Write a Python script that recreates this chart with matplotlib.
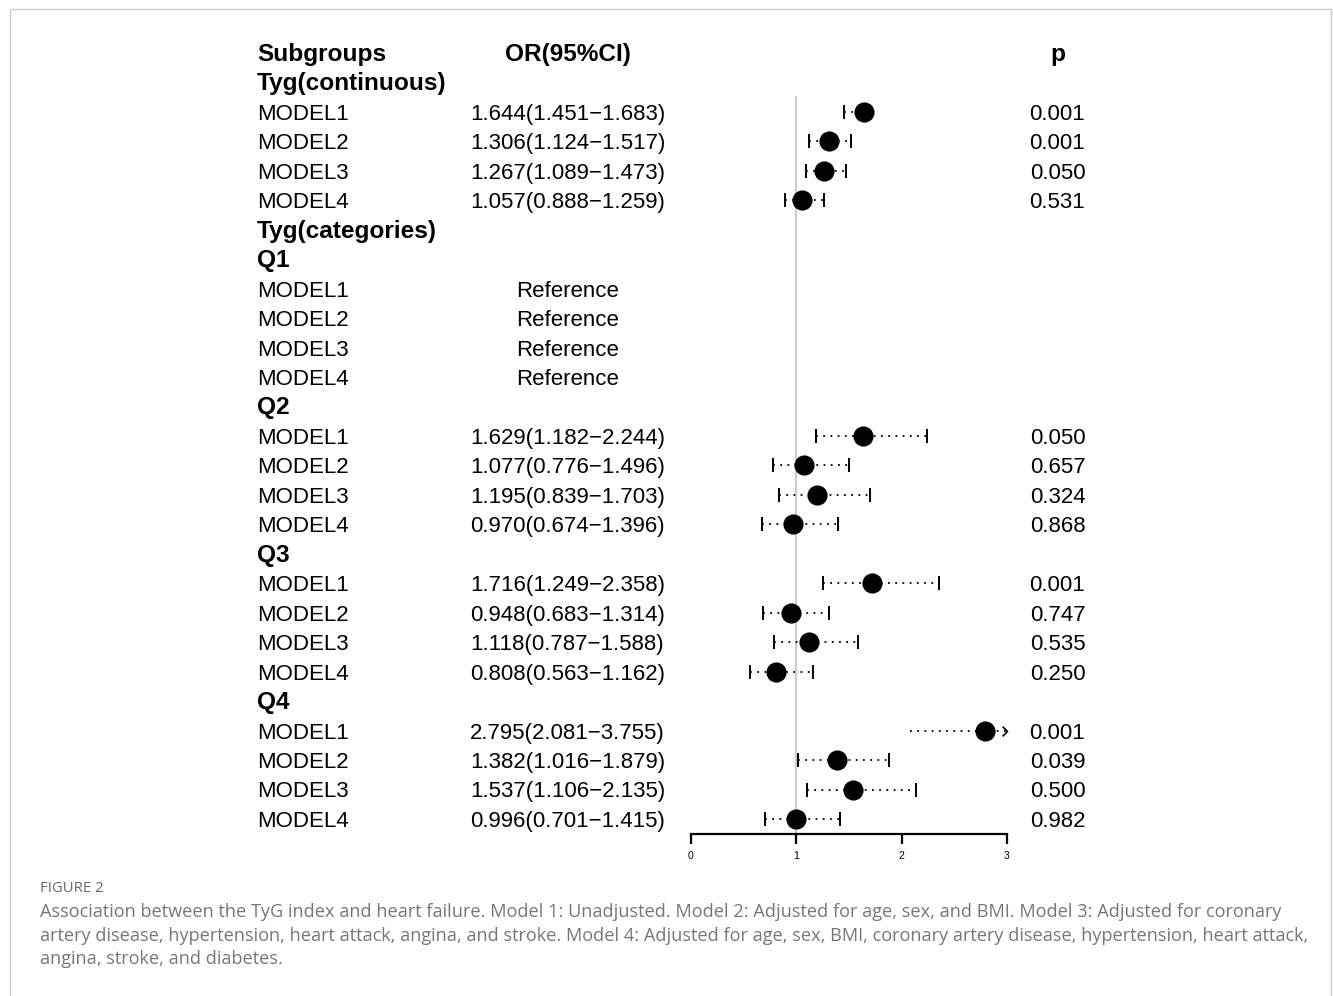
import matplotlib
matplotlib.use("Agg")
import matplotlib.pyplot as plt
from matplotlib.transforms import blended_transform_factory
from matplotlib.path import Path
from matplotlib.patches import Rectangle

# ---------------- data ----------------
header = ["Subgroups", "OR(95%CI)", "p"]
row_labels = ["Tyg(continuous)", "MODEL1", "MODEL2", "MODEL3", "MODEL4",
              "Tyg(categories)", "Q1", "MODEL1", "MODEL2", "MODEL3", "MODEL4",
              "Q2", "MODEL1", "MODEL2", "MODEL3", "MODEL4",
              "Q3", "MODEL1", "MODEL2", "MODEL3", "MODEL4",
              "Q4", "MODEL1", "MODEL2", "MODEL3", "MODEL4"]
or_est = [None, 1.644, 1.306, 1.267, 1.057,
          None, None, "ref", "ref", "ref", "ref",
          None, 1.629, 1.077, 1.195, 0.970,
          None, 1.716, 0.948, 1.118, 0.808,
          None, 2.795, 1.382, 1.537, 0.996]
ci_low = [None, 1.451, 1.124, 1.089, 0.888,
          None, None, None, None, None, None,
          None, 1.182, 0.776, 0.839, 0.674,
          None, 1.249, 0.683, 0.787, 0.563,
          None, 2.081, 1.016, 1.106, 0.701]
ci_high = [None, 1.683, 1.517, 1.473, 1.259,
           None, None, None, None, None, None,
           None, 2.244, 1.496, 1.703, 1.396,
           None, 2.358, 1.314, 1.588, 1.162,
           None, 3.755, 1.879, 2.135, 1.415]
p_values = ["", "0.001", "0.001", "0.050", "0.531",
            "", "", "", "", "", "",
            "", "0.050", "0.657", "0.324", "0.868",
            "", "0.001", "0.747", "0.535", "0.250",
            "", "0.001", "0.039", "0.500", "0.982"]
x_ticks = [0, 1, 2, 3]
caption_title = "FIGURE 2"
caption_lines = [
    "Association between the TyG index and heart failure. Model 1: Unadjusted. Model 2: Adjusted for age, sex, and BMI. Model 3: Adjusted for coronary",
    "artery disease, hypertension, heart attack, angina, and stroke. Model 4: Adjusted for age, sex, BMI, coronary artery disease, hypertension, heart attack,",
    "angina, stroke, and diabetes.",
]

# ---------------- figure ----------------
W, H = 1333, 996
fig = plt.figure(figsize=(W / 100, H / 100), dpi=100)
plt.rcParams['font.family'] = ['Liberation Sans', 'DejaVu Sans']

def fx(px):
    return px / W

def fy(py):
    return 1 - py / H

# forest axes: x data 0..3 spans px 691..1007; rows: row 0 (header) at y=53, spacing 29.46
ax_top, ax_bot = 38, 834
ax = fig.add_axes([fx(691), fy(ax_bot), fx(1007) - fx(691), (ax_bot - ax_top) / H])
row_h = 29.46
r_top = -(53 - ax_top) / row_h
r_bot = (ax_bot - 53) / row_h
ax.set_ylim(r_bot, r_top)
ax.set_xlim(0, 3)
for s in ["top", "right", "left"]:
    ax.spines[s].set_visible(False)
ax.spines["bottom"].set_linewidth(1.6)
ax.set_yticks([])
ax.set_xticks(x_ticks)
ax.set_xticklabels([str(t) for t in x_ticks], fontsize=7.5)
ax.tick_params(axis="x", direction="out", length=7, width=1.6, pad=5)
ax.patch.set_visible(False)

# reference line
ax.plot([1, 1], [1.5, r_bot], color="#cccccc", lw=1.5, zorder=1, clip_on=False)

TXT = 16
BTXT = 17.6
trans = blended_transform_factory(fig.transFigure, ax.transData)
base_off = 0.27

# header row
ax.text(fx(257), 0 + base_off, header[0], transform=trans, fontsize=BTXT, fontweight="bold", ha="left", va="baseline")
ax.text(fx(567.5), 0 + base_off, header[1], transform=trans, fontsize=BTXT, fontweight="bold", ha="center", va="baseline")
ax.text(fx(1057.5), 0 + base_off, header[2], transform=trans, fontsize=BTXT, fontweight="bold", ha="center", va="baseline")

chevron = Path([(-1, 1), (0, 0), (-1, -1)], [Path.MOVETO, Path.LINETO, Path.LINETO])

for i, lab in enumerate(row_labels):
    r = i + 1
    bold = not lab.startswith("MODEL")
    ax.text(fx(257), r + base_off, lab, transform=trans, fontsize=BTXT if bold else TXT,
            fontweight="bold" if bold else "normal", ha="left", va="baseline")
    est = or_est[i]
    if est == "ref":
        ax.text(fx(567.5), r + base_off, "Reference", transform=trans, fontsize=TXT,
                ha="center", va="baseline")
    elif est is not None:
        lo, hi = ci_low[i], ci_high[i]
        ax.text(fx(567.5), r + base_off, f"{est:.3f}({lo:.3f}\u2212{hi:.3f})", transform=trans,
                fontsize=TXT, ha="center", va="baseline")
        ax.text(fx(1057.5), r + base_off, p_values[i], transform=trans, fontsize=TXT,
                ha="center", va="baseline")
        hi_c = min(hi, 3.0)
        ax.plot([lo, hi_c], [r, r], color="black", lw=1.3, linestyle=(0, (1, 3.0)),
                zorder=2, clip_on=False)
        if hi > 3.0:
            ax.plot([3.0], [r], marker=chevron, markersize=7, color="black",
                    markerfacecolor="none", mew=1.2, zorder=2, clip_on=False)
        else:
            ax.plot([lo, hi], [r, r], linestyle="none", marker="|", markersize=10,
                    mew=1.4, color="black", zorder=2, clip_on=False)
        ax.plot([est], [r], marker="o", markersize=13.5, color="black", zorder=3, clip_on=False)

# border
fig.patches.append(Rectangle((fx(9.5), fy(1200)), fx(1331) - fx(9.5), fy(9.5) - fy(1200),
                             transform=fig.transFigure, fill=False, edgecolor="#cccccc",
                             lw=1.0, clip_on=False))

# caption
cap_font = ["Open Sans", "DejaVu Sans"]
fig.text(fx(40), fy(888), caption_title, fontsize=10.7, color="#666666", family=cap_font,
         ha="left", va="center")
cap_texts = []
for k, line in enumerate(caption_lines):
    t = fig.text(fx(40), fy(912 + k * 23.5), line, fontsize=12.5, color="#767676",
                 family=cap_font, ha="left", va="center")
    cap_texts.append(t)
fig.canvas.draw()
renderer = fig.canvas.get_renderer()
w0 = cap_texts[0].get_window_extent(renderer).width
scale = 1245 / w0
for t in cap_texts:
    t.set_fontsize(12.5 * scale)

fig.savefig("out.png", dpi=100)
